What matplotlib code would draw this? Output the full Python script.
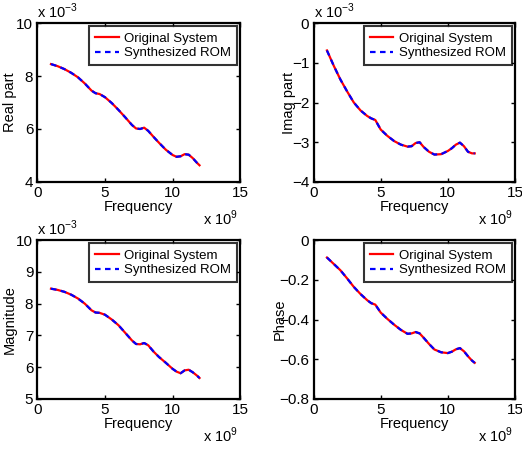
import numpy as np
import matplotlib
matplotlib.use('Agg')
import matplotlib.pyplot as plt

plt.rcParams['font.family'] = ['Liberation Sans', 'DejaVu Sans']
plt.rcParams['mathtext.fontset'] = 'custom'
plt.rcParams['mathtext.rm'] = 'Liberation Sans'

# frequency in units of 1e9
freq = [1, 1.5, 2, 2.5, 3, 3.5, 4, 4.3, 4.6, 5, 5.5, 6, 6.5, 7, 7.3, 7.6, 7.9, 8.2,
        8.6, 9, 9.5, 10, 10.3, 10.6, 10.9, 11.2, 11.5, 11.8, 12]

# real part, units of 1e-3
real_part = [8.45, 8.37, 8.26, 8.12, 7.95, 7.72, 7.45, 7.35, 7.32, 7.2, 6.98, 6.72,
             6.44, 6.15, 6.02, 6.0, 6.05, 5.93, 5.7, 5.48, 5.22, 5.02, 4.95, 4.97,
             5.05, 5.03, 4.9, 4.73, 4.63]
# imag part, units of 1e-3
imag_part = [-0.69, -1.07, -1.42, -1.72, -2.0, -2.2, -2.34, -2.4, -2.44, -2.68,
             -2.84, -2.97, -3.06, -3.11, -3.1, -3.02, -3.0, -3.12, -3.24, -3.31,
             -3.3, -3.22, -3.15, -3.06, -3.01, -3.1, -3.24, -3.28, -3.28]
# magnitude, units of 1e-3
magnitude = [8.47, 8.43, 8.37, 8.28, 8.16, 8.0, 7.79, 7.72, 7.71, 7.65, 7.5, 7.32,
             7.08, 6.84, 6.73, 6.72, 6.76, 6.69, 6.49, 6.32, 6.14, 5.95, 5.86, 5.81,
             5.9, 5.92, 5.84, 5.74, 5.66]
phase = [-0.088, -0.12, -0.152, -0.193, -0.236, -0.272, -0.303, -0.318, -0.325,
         -0.365, -0.397, -0.426, -0.452, -0.472, -0.47, -0.463, -0.47, -0.492,
         -0.523, -0.551, -0.565, -0.569, -0.562, -0.55, -0.544, -0.56, -0.585,
         -0.607, -0.618]

panels = [
    (real_part, 'Real part', (4, 10), [4, 6, 8, 10], ['4', '6', '8', '10'], True),
    (imag_part, 'Imag part', (-4, 0), [-4, -3, -2, -1, 0],
     ['\u22124', '\u22123', '\u22122', '\u22121', '0'], True),
    (magnitude, 'Magnitude', (5, 10), [5, 6, 7, 8, 9, 10],
     ['5', '6', '7', '8', '9', '10'], True),
    (phase, 'Phase', (-0.8, 0), [-0.8, -0.6, -0.4, -0.2, 0],
     ['\u22120.8', '\u22120.6', '\u22120.4', '\u22120.2', '0'], False),
]

positions = [
    [0.0718, 0.5947, 0.388, 0.354],
    [0.6006, 0.5947, 0.386, 0.354],
    [0.0718, 0.1114, 0.388, 0.354],
    [0.6006, 0.1114, 0.386, 0.354],
]
ylabel_x = [-0.136, -0.121, -0.136, -0.17]

fig = plt.figure(figsize=(5.22, 4.49), dpi=100)

for (vals, ylab, ylim, yt, ytl, expo), pos, lx in zip(panels, positions, ylabel_x):
    ax = fig.add_axes(pos)
    ax.plot(freq, vals, color='red', lw=1.6, label='Original System')
    ax.plot(freq, vals, color='blue', lw=1.6, ls='--', dashes=(2.5, 2),
            label='Synthesized ROM')
    ax.set_xlim(0, 15)
    ax.set_ylim(*ylim)
    ax.set_xticks([0, 5, 10, 15])
    ax.set_xticklabels(['0', '5', '10', '15'])
    ax.set_yticks(yt)
    ax.set_yticklabels(ytl)
    ax.tick_params(direction='in', top=True, right=True, labelsize=11,
                   length=3, width=1, pad=3)
    for s in ax.spines.values():
        s.set_linewidth(1.6)
    ax.set_xlabel('Frequency', fontsize=10.5, labelpad=0)
    ax.set_ylabel(ylab, fontsize=10.5)
    ax.yaxis.set_label_coords(lx, 0.5)
    ax.yaxis.label.set_verticalalignment('center')
    leg = ax.legend(loc='upper right', fontsize=9.5, frameon=True, fancybox=False,
                    borderaxespad=0.25, handlelength=1.75, borderpad=0.45,
                    labelspacing=0.2, handletextpad=0.4)
    leg.get_frame().set_edgecolor('black')
    leg.get_frame().set_linewidth(1.5)
    ax.text(0.99, -0.17, 'x 10$^{9}$', transform=ax.transAxes,
            ha='right', va='top', fontsize=10.5)
    if expo:
        ax.text(0.0, 1.01, 'x 10$^{-3}$', transform=ax.transAxes,
                ha='left', va='bottom', fontsize=10.5)

fig.savefig('out.png', dpi=100)
